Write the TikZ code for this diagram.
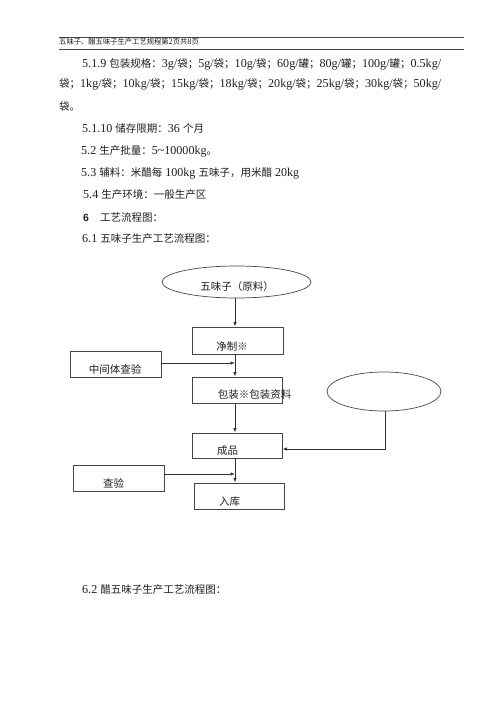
\documentclass[tikz,border=0pt]{standalone}
\usepackage{fontspec}
\setmainfont[Scale=1.15]{Liberation Serif}
\newfontfamily\cjk{Noto Sans CJK SC}
\newfontfamily\lsans{Liberation Sans}
\XeTeXinterchartokenstate=1
\newXeTeXintercharclass\cjkcls
\newcount\cc
\cc="3000 \loop\ifnum\cc<"3040 \XeTeXcharclass\cc=\cjkcls \advance\cc by 1 \repeat
\cc="4E00 \loop\ifnum\cc<"A000 \XeTeXcharclass\cc=\cjkcls \advance\cc by 1 \repeat
\cc="FF00 \loop\ifnum\cc<"FFF0 \XeTeXcharclass\cc=\cjkcls \advance\cc by 1 \repeat
\XeTeXcharclass"203B=\cjkcls
\XeTeXinterchartoks 0 \cjkcls={\cjk}
\XeTeXinterchartoks 4095 \cjkcls={\cjk}
\XeTeXinterchartoks \cjkcls 0={\rmfamily}
\XeTeXinterchartoks \cjkcls 4095={\rmfamily}
\usetikzlibrary{shapes.geometric,arrows.meta,calc}
\definecolor{ink}{RGB}{30,30,30}
\definecolor{boxc}{RGB}{70,70,70}
\definecolor{linec}{RGB}{50,50,50}
\begin{document}
\begin{tikzpicture}[x=1pt,y=-1pt,
  txt/.style={anchor=base west,inner sep=0pt,font=\fontsize{10.5}{12}\selectfont,text=ink},
  lbl/.style={inner sep=0pt,font=\fontsize{10.5}{12}\selectfont,text=ink},
  box/.style={draw=boxc,line width=0.9pt,rectangle,inner sep=0pt},
  oval/.style={draw=boxc,line width=0.7pt,ellipse,inner sep=0pt},
  arr/.style={draw=linec,line width=0.8pt,-{Latex[length=4.5pt,width=3.5pt]}},
  rule/.style={draw=boxc,line width=0.7pt}]
\path[fill=white,use as bounding box] (0,0) rectangle (500,707);
% header
\coordinate (h1a) at (59,37); \coordinate (h1b) at (464,37);
\coordinate (h2a) at (59,49); \coordinate (h2b) at (464,49);
\draw[rule] (h1a) -- (h1b);
\draw[rule] (h2a) -- (h2b);
\node[anchor=base west,inner sep=0pt,font=\fontsize{7.3}{9}\selectfont,text=ink] (hd) at (59,44.5) {五味子、醋五味子生产工艺规程第2页共8页};
% body text
\node[txt] (l1) at (82,67) {5.1.9 包装规格：3g/袋；5g/袋；10g/袋；60g/罐；80g/罐；100g/罐；0.5kg/};
\node[txt] (l2) at (59,87.5) {袋；1kg/袋；10kg/袋；15kg/袋；18kg/袋；20kg/袋；25kg/袋；30kg/袋；50kg/};
\node[txt] (l3) at (59,110) {袋。};
\node[txt] (l4) at (82,132) {5.1.10 储存限期：36 个月};
\node[txt] (l5) at (81,154) {5.2 生产批量：5\textasciitilde10000kg。};
\node[txt] (l6) at (81,176) {5.3 辅料：米醋每 100kg 五味子，用米醋 20kg};
\node[txt] (l7) at (83,198) {5.4 生产环境：一般生产区};
\node[txt] (l8a) at (83,221) {\lsans\bfseries 6};
\node[txt] (l8b) at (100,221) {工艺流程图：};
\node[txt] (l9) at (82,242) {6.1 五味子生产工艺流程图：};
\node[txt] (l10) at (82,593) {6.2 醋五味子生产工艺流程图：};
% flowchart shapes
\node[oval,minimum width=149pt,minimum height=32pt] (E1) at (236.5,282) {};
\node[oval,minimum width=114pt,minimum height=39pt] (E2) at (384,391.5) {};
\node[box,minimum width=91pt,minimum height=27pt] (B1) at (237.5,340.5) {};
\node[box,minimum width=91pt,minimum height=26pt] (B2) at (115.5,364) {};
\node[box,minimum width=90pt,minimum height=26pt] (B3) at (237,390) {};
\node[box,minimum width=90pt,minimum height=25pt] (B4) at (237,445.5) {};
\node[box,minimum width=91pt,minimum height=26pt] (B5) at (118.5,478) {};
\node[box,minimum width=90pt,minimum height=26pt] (B6) at (239,496) {};
% labels
\node[lbl] (tE1) at (237,287) {五味子（原料）};
\node[lbl] (tB1) at (232,346) {净制※};
\node[lbl] (tB2) at (115,369) {中间体查验};
\node[lbl] (tB3) at (254.5,395) {包装※包装资料};
\node[lbl] (tB4) at (227.5,451) {成品};
\node[lbl] (tB5) at (113.5,483) {查验};
\node[lbl] (tB6) at (229.5,502) {入库};
% connectors
\coordinate (col) at (235,0);
\coordinate (k) at (385,449);
\draw[arr] (E1.south -| col) -- (B1.north -| col);
\draw[arr] (B1.south -| col) -- (B3.north -| col);
\draw[arr] ($(B2.east)+(0,-1)$) -- ($(B2.east -| col)+(0,-1)$);
\draw[arr] (B3.south -| col) -- (B4.north -| col);
\draw[arr] (E2.south -| k) -- (k) -- (k -| B4.east);
\draw[arr] (B4.south -| col) -- (B6.north -| col);
\draw[arr] ($(B5.east)+(0,-4)$) -- ($(B5.east -| col)+(0,-4)$);
\end{tikzpicture}
\end{document}
